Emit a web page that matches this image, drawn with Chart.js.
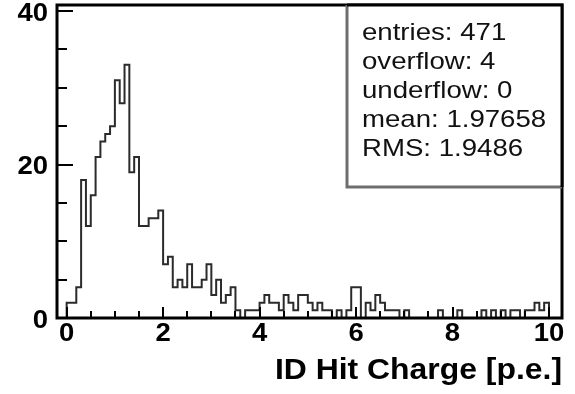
<!DOCTYPE html>
<html>
<head>
<meta charset="utf-8">
<script src="https://cdn.jsdelivr.net/npm/chart.js@4.4.1/dist/chart.umd.min.js"></script>
<style>
  html, body { margin: 0; padding: 0; background: #fff; }
  #wrap { width: 575px; height: 394px; }
</style>
</head>
<body>
<div id="wrap"><canvas id="histo" width="575" height="394"></canvas></div>
<script>
// histogram: 100 bins of 0.1 p.e. from 0 to 10
const binWidth = 0.1;
const counts = [
    2, 2, 4, 18, 12, 16, 21, 23, 24, 25,
    31, 28, 33, 19, 21, 12, 12, 13, 13, 14,
    7, 8, 4, 5, 4, 7, 4, 4, 5, 7,
    3, 5, 2, 3, 4, 1, 0, 1, 1, 1,
    2, 3, 2, 2, 1, 3, 2, 1, 3, 3,
    2, 1, 2, 1, 1, 0, 1, 0, 1, 4,
    4, 0, 2, 1, 3, 2, 1, 1, 1, 0,
    1, 0, 0, 0, 0, 0, 0, 1, 0, 0,
    0, 1, 0, 0, 0, 0, 1, 0, 1, 0,
    1, 0, 1, 1, 0, 1, 1, 2, 1, 2
];

const xTicks = [0, 2, 4, 6, 8, 10];
const yTicks = [0, 20, 40];
const xTitle = "ID Hit Charge [p.e.]";

const statNames = ["entries", "overflow", "underflow", "mean", "RMS"];
const statValues = ["471", "4", "0", "1.97658", "1.9486"];

// step outline points: low edge of every bin, closed at both ends
function histoPoints(){
    let pts = [{x: 0, y: 0}];
    counts.forEach((c, i) => {
        pts.push({x: +(i * binWidth).toFixed(2), y: c});
    });
    pts.push({x: counts.length * binWidth, y: 0});
    return pts;
}

// text in the old ROOT look is a bit wide, so stretch it horizontally
function wideText(ctx, txt, x, y, align, sx){
    ctx.save();
    ctx.translate(x, y);
    ctx.scale(sx, 1);
    ctx.textAlign = align;
    ctx.fillText(txt, 0, 0);
    ctx.restore();
}

/* FRAME, TICKS, LABELS, STATS */
const rootFrame = {
    id: "rootFrame",
    afterDraw(chart){
        const ctx = chart.ctx;
        const a = chart.chartArea;
        const xs = chart.scales.x;
        const ys = chart.scales.y;

        ctx.save();
        ctx.strokeStyle = "#000";

        // minor / major ticks on x, pointing into the frame
        ctx.lineWidth = 2;
        for(let v = 0; v <= 10.001; v += 0.5){
            let px = Math.round(xs.getPixelForValue(v));
            let major = Math.abs(v / 2 - Math.round(v / 2)) < 1e-6;
            ctx.beginPath();
            ctx.moveTo(px, a.bottom);
            ctx.lineTo(px, a.bottom - (major ? 11 : 7));
            ctx.stroke();
        }
        // y ticks every 5
        for(let v = 0; v <= 40; v += 5){
            let py = Math.round(ys.getPixelForValue(v));
            let major = v % 20 === 0;
            ctx.beginPath();
            ctx.moveTo(a.left, py);
            ctx.lineTo(a.left + (major ? 16 : 10), py);
            ctx.stroke();
        }

        // frame
        ctx.lineWidth = 3;
        ctx.strokeRect(a.left, a.top, a.right - a.left, a.bottom - a.top);

        // stats box with grey shadow
        let bx = 347, by = a.top, bw = a.right - 347, bh = 182;
        ctx.fillStyle = "#fff";
        ctx.fillRect(bx, by, bw, bh);
        ctx.strokeStyle = "#6e6e6e";
        ctx.lineWidth = 3;
        ctx.beginPath();
        ctx.moveTo(bx, by);
        ctx.lineTo(bx, by + bh);
        ctx.lineTo(bx + bw, by + bh);
        ctx.stroke();
        ctx.strokeStyle = "#000";
        ctx.beginPath();
        ctx.moveTo(bx, by);
        ctx.lineTo(a.right, by);
        ctx.lineTo(a.right, by + bh);
        ctx.stroke();

        ctx.fillStyle = "#111";
        ctx.font = "24px 'Liberation Sans', Arial, sans-serif";
        ctx.textBaseline = "middle";
        statNames.forEach((n, i) => {
            wideText(ctx, n + ": " + statValues[i], 362, 33 + i * 29, "left", 1.15);
        });

        // tick labels
        ctx.fillStyle = "#000";
        ctx.font = "bold 25px 'Liberation Sans', Arial, sans-serif";
        ctx.textBaseline = "middle";
        xTicks.forEach(v => {
            wideText(ctx, String(v), xs.getPixelForValue(v), 334, "center", 1.1);
        });
        yTicks.forEach(v => {
            wideText(ctx, String(v), 48, ys.getPixelForValue(v) + 3, "right", 1.1);
        });

        // axis title
        ctx.font = "bold 29px 'Liberation Sans', Arial, sans-serif";
        ctx.textBaseline = "alphabetic";
        wideText(ctx, xTitle, a.right, 379, "right", 1.1);

        ctx.restore();
    }
};

new Chart(document.getElementById("histo"), {
    type: "line",
    data: {
        datasets: [{
            data: histoPoints(),
            stepped: "before",
            borderColor: "#2b2b2b",
            borderWidth: 2,
            pointRadius: 0,
            fill: false
        }]
    },
    options: {
        responsive: false,
        animation: false,
        events: [],
        layout: {
            padding: {left: 57, right: 13, top: 5, bottom: 76}
        },
        scales: {
            x: {type: "linear", display: false, min: -0.2, max: 10.27},
            y: {type: "linear", display: false, min: 0, max: 40.8}
        },
        plugins: {
            legend: {display: false},
            tooltip: {enabled: false}
        }
    },
    plugins: [rootFrame]
});
</script>
</body>
</html>
